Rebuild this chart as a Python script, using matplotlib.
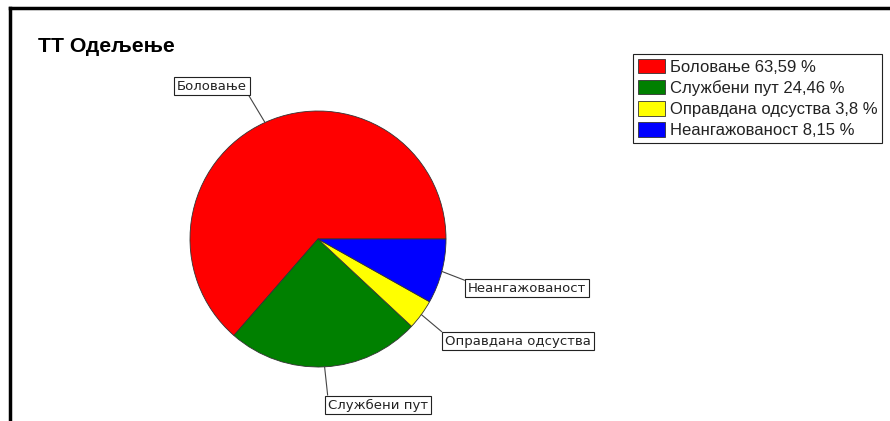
import numpy as np
import matplotlib
matplotlib.use('Agg')
from matplotlib import pyplot as plt
from matplotlib.lines import Line2D

plt.rcParams['font.family'] = ['Liberation Sans', 'DejaVu Sans']

# data
categories = ['Боловање', 'Службени пут', 'Оправдана одсуства', 'Неангажованост']
shares = [63.59, 24.46, 3.8, 8.15]
share_text = ['63,59', '24,46', '3,8', '8,15']
colors = ['#FF0000', '#008000', '#FFFF00', '#0000FF']
title = 'ТТ Одељење'

W, H = 890, 421
fig = plt.figure(figsize=(W / 100, H / 100), dpi=100)
ax = fig.add_axes([0, 0, 1, 1])

cx, cy, r = 318, 182, 128
wedges, _ = ax.pie(shares, colors=colors, startangle=0, counterclock=True,
                   center=(cx, cy), radius=r, frame=True,
                   wedgeprops=dict(edgecolor='#333333', linewidth=0.6))
ax.set_xlim(0, W)
ax.set_ylim(0, H)
ax.set_aspect('equal')
ax.axis('off')

# label boxes (centre of text, corner where leader meets box)
label_pos = [(212, 335), (378, 16), (518, 80), (527, 133)]
relpos = [(1, 0), (0, 1), (0, 1), (0, 1)]
for w, name, pos, rp in zip(wedges, categories, label_pos, relpos):
    ang = np.deg2rad((w.theta1 + w.theta2) / 2)
    edge = (cx + r * np.cos(ang), cy + r * np.sin(ang))
    ax.annotate(name, xy=edge, xytext=pos, ha='center', va='center',
                fontsize=9.5, color='#222222', family=['DejaVu Sans'],
                bbox=dict(boxstyle='square,pad=0.22', fc='white', ec='#222222', lw=0.8),
                arrowprops=dict(arrowstyle='-', color='#444444', lw=0.8,
                                relpos=rp, shrinkA=0, shrinkB=0))

leg = fig.legend(wedges, [f'{c} {s} %' for c, s in zip(categories, share_text)],
                 loc='upper left', bbox_to_anchor=(633 / W, 1 - 54 / H),
                 fontsize=12, frameon=True, fancybox=False, framealpha=1,
                 edgecolor='#222222', borderpad=0.3, labelspacing=0.31,
                 handlelength=1.6, handleheight=0.95, handletextpad=0.3,
                 borderaxespad=0)
leg.get_frame().set_linewidth(0.8)
for t in leg.get_texts():
    t.set_color('#222222')

fig.text(38 / W, 1 - 46 / H, title, fontsize=15.3, fontweight='bold',
         ha='left', va='center', color='black')

# outer frame (top and left edges)
fig.add_artist(Line2D([10 / W, 1], [1 - 8 / H, 1 - 8 / H], color='black', lw=2.5,
                      transform=fig.transFigure))
fig.add_artist(Line2D([10 / W, 10 / W], [0, 1 - 8 / H], color='black', lw=2.5,
                      transform=fig.transFigure))

fig.savefig('out.png', dpi=100)
